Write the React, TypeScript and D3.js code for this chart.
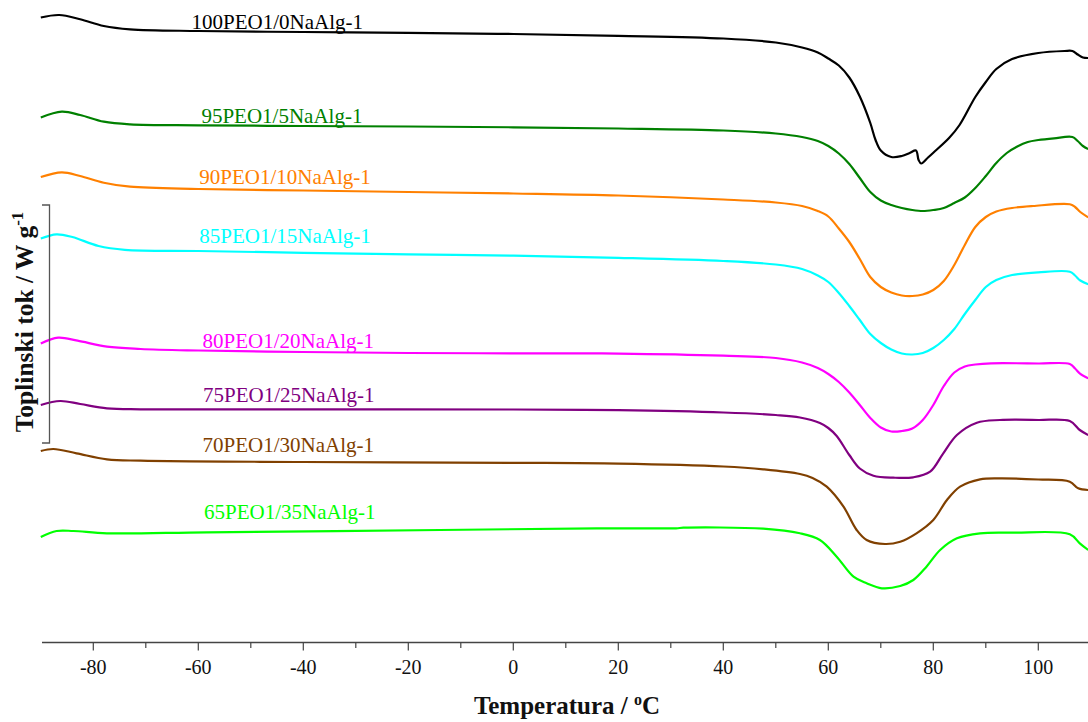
import React from "react";
import * as d3 from "d3";

// Heat-flow curves (temperature °C, heat flow, stacked/offset, arbitrary W g-1 units)
const s100: [number, number][] = [
  [-90, 6.245], [-86.5, 6.27], [-82.5, 6.227], [-78, 6.16], [-73, 6.127], [-60, 6.11], [-40, 6.1], [-20, 6.092],
  [0, 6.08], [20, 6.062], [40, 6.035], [50, 5.995], [55, 5.945], [58, 5.895], [60, 5.835], [62, 5.765], [64, 5.645],
  [66, 5.455], [68, 5.19], [69, 5.02], [70, 4.915], [72, 4.85], [74, 4.86], [75.5, 4.89], [76.7, 4.915], [77.2, 4.82],
  [77.7, 4.785], [79, 4.845], [80, 4.893], [83, 5.04], [85, 5.17], [88, 5.45], [90, 5.6], [92, 5.73], [95, 5.83],
  [100, 5.89], [105, 5.91], [106.5, 5.91], [107.5, 5.875], [108.5, 5.845], [109.5, 5.84],
];
const s95: [number, number][] = [
  [-90, 5.245], [-86, 5.303], [-82.5, 5.27], [-78, 5.203], [-73, 5.177], [-60, 5.167], [-40, 5.16], [-20, 5.155],
  [0, 5.147], [20, 5.135], [40, 5.115], [50, 5.085], [55, 5.05], [58, 5.01], [60, 4.96], [62, 4.885], [64, 4.78],
  [66, 4.64], [68, 4.5], [70, 4.415], [72, 4.37], [74, 4.34], [76, 4.32], [78, 4.31], [80, 4.32], [82, 4.34],
  [84, 4.39], [86, 4.445], [88, 4.54], [90, 4.66], [92, 4.79], [94, 4.89], [96, 4.955], [98, 5.0], [100, 5.02],
  [103, 5.037], [106.5, 5.05], [107.5, 5.01], [108.5, 4.96], [109.5, 4.93],
];
const s90: [number, number][] = [
  [-90, 4.65], [-86, 4.697], [-82.5, 4.66], [-78, 4.593], [-73, 4.553], [-60, 4.53], [-40, 4.515], [-20, 4.5],
  [0, 4.485], [20, 4.465], [40, 4.425], [50, 4.395], [55, 4.36], [58, 4.31], [60, 4.255], [62, 4.135], [64, 4.0],
  [66, 3.83], [68, 3.65], [70, 3.55], [72, 3.495], [74, 3.465], [76, 3.46], [78, 3.475], [80, 3.52], [82, 3.61],
  [84, 3.77], [86, 3.97], [88, 4.15], [90, 4.25], [92, 4.305], [95, 4.34], [99, 4.36], [106, 4.377], [107, 4.35],
  [108, 4.3], [109.5, 4.247],
];
const s85: [number, number][] = [
  [-90, 4.035], [-87, 4.077], [-84, 4.05], [-79, 3.96], [-74, 3.922], [-60, 3.91], [-40, 3.892], [-20, 3.877],
  [0, 3.863], [20, 3.842], [40, 3.81], [50, 3.775], [55, 3.73], [58, 3.665], [60, 3.6], [62, 3.49], [64, 3.36],
  [66, 3.22], [68, 3.08], [70, 2.99], [72, 2.925], [74, 2.885], [76, 2.875], [78, 2.89], [80, 2.94], [82, 3.02],
  [84, 3.13], [86, 3.28], [88, 3.42], [90, 3.55], [92, 3.62], [95, 3.67], [100, 3.697], [106, 3.703], [107, 3.665],
  [108, 3.615], [109.5, 3.577],
];
const s80: [number, number][] = [
  [-90, 2.985], [-86.7, 3.043], [-83, 3.013], [-77.4, 2.953], [-71, 2.93], [-60, 2.915], [-40, 2.9], [-20, 2.89],
  [0, 2.887], [20, 2.884], [40, 2.863], [50, 2.84], [55, 2.795], [58, 2.74], [60, 2.68], [62, 2.6], [64, 2.495],
  [66, 2.37], [68, 2.24], [70, 2.145], [72, 2.105], [74, 2.11], [76, 2.135], [78, 2.22], [80, 2.37], [82, 2.56],
  [84, 2.695], [86, 2.755], [88, 2.775], [91, 2.787], [100, 2.785], [106, 2.78], [107, 2.735], [108, 2.682],
  [109.5, 2.637],
];
const s75: [number, number][] = [
  [-90, 2.37], [-86.3, 2.41], [-82.5, 2.38], [-77.4, 2.337], [-71, 2.327], [-40, 2.327], [0, 2.325], [20, 2.318],
  [40, 2.295], [50, 2.27], [54.6, 2.245], [58.4, 2.19], [60, 2.14], [61.6, 2.06], [64, 1.87], [66, 1.735],
  [68.6, 1.663], [72.4, 1.643], [76.2, 1.647], [79.4, 1.703], [81.9, 1.887], [84.5, 2.07], [88.3, 2.193],
  [92.7, 2.22], [100, 2.22], [106, 2.21], [107.9, 2.12], [109.5, 2.07],
];
const s70: [number, number][] = [
  [-90, 1.91], [-87.6, 1.93], [-83.2, 1.887], [-77.4, 1.827], [-71, 1.813], [-40, 1.8], [0, 1.792], [20, 1.784],
  [40, 1.755], [47.6, 1.727], [54.6, 1.68], [57, 1.64], [59.7, 1.553], [62.9, 1.353], [65.4, 1.12],
  [67.3, 1.02], [70.8, 0.98], [73.7, 1.003], [76.8, 1.087], [80, 1.22], [82.6, 1.42], [85.1, 1.553],
  [88.9, 1.627], [92.7, 1.637], [100, 1.625], [106, 1.603], [107.6, 1.537], [109.5, 1.52],
];
const s65: [number, number][] = [
  [-90, 1.05], [-87, 1.11], [-83.8, 1.11], [-77.4, 1.087], [-58.4, 1.097], [-14, 1.12], [15.9, 1.137], [31, 1.137],
  [32.4, 1.143], [47.6, 1.133], [54.6, 1.087], [58.4, 1.02], [61.6, 0.853], [64.8, 0.653], [67.3, 0.587],
  [70.2, 0.537], [73.7, 0.56], [76.2, 0.62], [78.7, 0.753], [81.3, 0.92], [84.5, 1.037], [88.9, 1.087],
  [95.2, 1.093], [106, 1.077], [107.9, 0.987], [109.5, 0.92],
];

const seriesNames = [
  "100PEO1/0NaAlg-1", "95PEO1/5NaAlg-1", "90PEO1/10NaAlg-1", "85PEO1/15NaAlg-1",
  "80PEO1/20NaAlg-1", "75PEO1/25NaAlg-1", "70PEO1/30NaAlg-1", "65PEO1/35NaAlg-1",
];
const seriesData = [s100, s95, s90, s85, s80, s75, s70, s65];
const seriesColors = ["#000000", "#008000", "#FF8000", "#00FFFF", "#FF00FF", "#800080", "#804000", "#00FF00"];
// label anchor positions (temperature, heat flow)
const labelX = [-61.3, -59.4, -59.8, -59.8, -59.2, -59.1, -59.2, -58.9];
const labelY = [6.127, 5.193, 4.577, 3.987, 2.937, 2.403, 1.903, 1.227];

const majorTicks = [-80, -60, -40, -20, 0, 20, 40, 60, 80, 100];
const minorTicks = [-70, -50, -30, -10, 10, 30, 50, 70, 90];

const W = 1088;
const H = 722;
const FONT = "'Liberation Serif', 'Times New Roman', serif";

export default function App() {
  const x = d3.scaleLinear().domain([-90, 110]).range([40.8, 1090.8]);
  const y = d3.scaleLinear().domain([0, 6.42]).range([642, 0]);
  const line = d3
    .line<[number, number]>()
    .x((d) => x(d[0]))
    .y((d) => y(d[1]))
    .curve(d3.curveCatmullRom.alpha(0.5));

  const axisY = 642.5;
  const barX = 49.5;
  const barTop = y(4.37);
  const barBot = y(1.99);

  return (
    <svg
      width={W}
      height={H}
      style={{ position: "absolute", left: 0, top: 0, background: "#fff" }}
      fontFamily={FONT}
    >
      <rect x={0} y={0} width={W} height={H} fill="#fff" />
      {seriesData.map((d, i) => (
        <path key={"l" + i} d={line(d) || ""} fill="none" stroke={seriesColors[i]} strokeWidth={2.2} strokeLinejoin="round" />
      ))}
      {seriesNames.map((n, i) => (
        <text key={"t" + i} x={x(labelX[i])} y={y(labelY[i])} fontSize={21} fill={seriesColors[i]}>
          {n}
        </text>
      ))}
      {/* scale bar */}
      <path
        d={`M${barX - 7.5},${barTop}H${barX}V${barBot}H${barX - 7.5}`}
        fill="none"
        stroke="#555"
        strokeWidth={1.3}
      />
      {/* x axis */}
      <line x1={42} x2={W} y1={axisY} y2={axisY} stroke="#444" strokeWidth={1.3} />
      {majorTicks.map((t) => (
        <g key={"M" + t}>
          <line x1={x(t)} x2={x(t)} y1={axisY} y2={axisY + 8} stroke="#444" strokeWidth={1.2} />
          <text x={x(t)} y={674} fontSize={20} textAnchor="middle" fill="#111">
            {t}
          </text>
        </g>
      ))}
      {minorTicks.map((t) => (
        <line key={"m" + t} x1={x(t)} x2={x(t)} y1={axisY} y2={axisY + 5.5} stroke="#444" strokeWidth={1.2} />
      ))}
      <text x={567} y={714} fontSize={25} fontWeight="bold" textAnchor="middle" fill="#111">
        Temperatura / <tspan dy={-9} fontSize={16}>o</tspan>
        <tspan dy={9}>C</tspan>
      </text>
      <text
        transform={`translate(33,322) rotate(-90)`}
        fontSize={25.5}
        fontWeight="bold"
        textAnchor="middle"
        fill="#111"
      >
        Toplinski tok / W g<tspan dy={-10} fontSize={17}>-1</tspan>
      </text>
    </svg>
  );
}
